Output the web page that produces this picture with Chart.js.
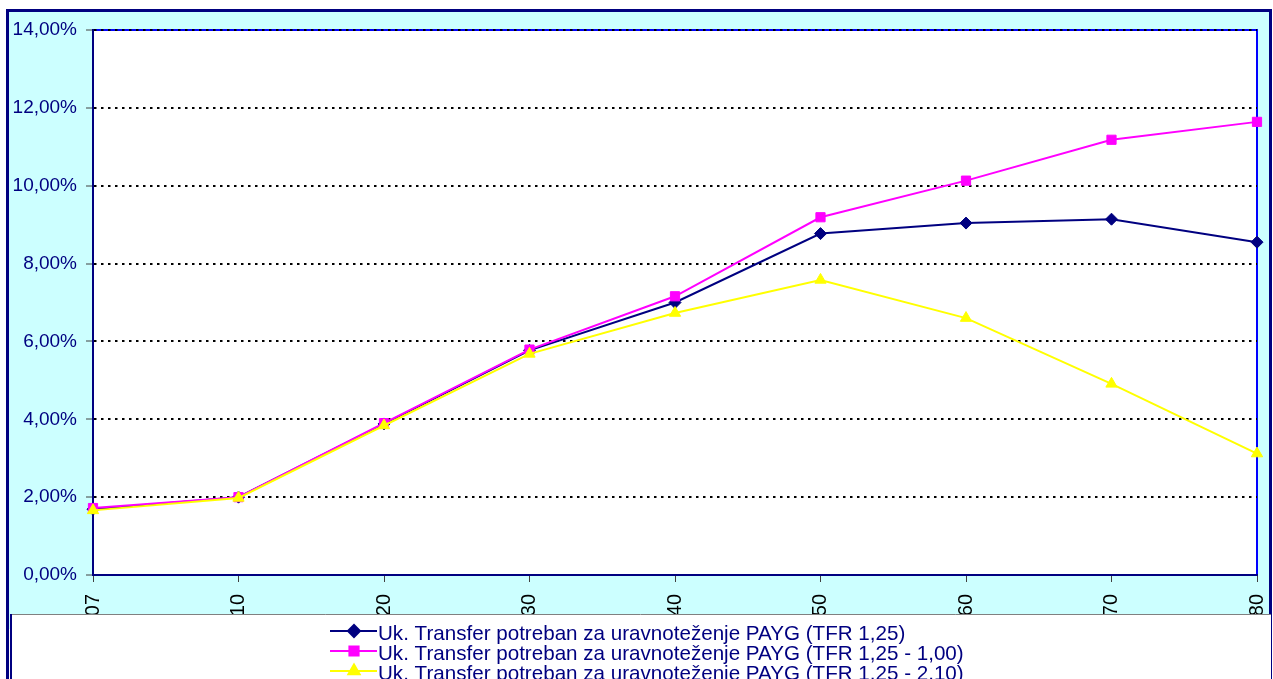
<!DOCTYPE html>
<html>
<head>
<meta charset="utf-8">
<script src="https://cdn.jsdelivr.net/npm/chart.js@4/dist/chart.umd.min.js"></script>
<style>
  html, body { margin: 0; padding: 0; background: #ffffff; overflow: hidden; }
  #wrap { width: 1273px; height: 679px; position: relative; }
  canvas { display: block; }
</style>
</head>
<body>
<div id="wrap"><canvas id="c" width="1273" height="679"></canvas></div>
<script>
// Years on the horizontal axis
const years = ['2007', '2010', '2020', '2030', '2040', '2050', '2060', '2070', '2080'];

// Total transfer needed to balance PAYG, % of GDP
const transferTfr125 = [1.69, 2.00, 3.88, 5.77, 7.00, 8.77, 9.04, 9.14, 8.55];
const transferTfr125to100 = [1.72, 2.00, 3.90, 5.79, 7.16, 9.19, 10.13, 11.18, 11.64];
const transferTfr125to210 = [1.66, 1.98, 3.84, 5.68, 6.73, 7.58, 6.60, 4.91, 3.12];

const seriesNames = [
  'Uk. Transfer potreban za uravnoteženje PAYG (TFR 1,25)',
  'Uk. Transfer potreban za uravnoteženje PAYG (TFR 1,25 - 1,00)',
  'Uk. Transfer potreban za uravnoteženje PAYG (TFR 1,25 - 2,10)'
];

const yMin = 0, yMax = 14, yStep = 2;

const NAVY = '#000080';
const CYAN = '#CCFFFF';
const FONT = '"Liberation Sans", Arial, sans-serif';

// Background, outer frame, plot area box and the legend panel
const framePlugin = {
  id: 'frame',
  beforeDraw(chart) {
    const ctx = chart.ctx;
    const a = chart.chartArea;
    ctx.save();
    ctx.fillStyle = '#ffffff';
    ctx.fillRect(0, 0, chart.width, chart.height);
    ctx.fillStyle = CYAN;
    ctx.fillRect(6, 9, 1266, 620);
    ctx.strokeStyle = NAVY;
    ctx.lineWidth = 3;
    ctx.strokeRect(7.5, 10.5, 1263, 700);
    // plot area
    ctx.fillStyle = '#ffffff';
    ctx.fillRect(a.left, a.top, a.right - a.left, a.bottom - a.top);
    ctx.strokeStyle = '#0000FF';
    ctx.lineWidth = 2;
    ctx.beginPath();
    ctx.moveTo(a.left, a.top);
    ctx.lineTo(a.right, a.top);
    ctx.lineTo(a.right, a.bottom);
    ctx.stroke();
    ctx.restore();
  },
  afterDraw(chart) {
    const ctx = chart.ctx;
    ctx.save();
    const boxTop = 614;
    ctx.fillStyle = '#ffffff';
    ctx.fillRect(10, boxTop, chart.width - 12, chart.height - boxTop);
    ctx.strokeStyle = '#808080';
    ctx.lineWidth = 1;
    ctx.beginPath();
    ctx.moveTo(10, boxTop + 0.5);
    ctx.lineTo(chart.width - 2, boxTop + 0.5);
    ctx.stroke();
    ctx.strokeStyle = NAVY;
    ctx.lineWidth = 2;
    ctx.beginPath();
    ctx.moveTo(11, boxTop);
    ctx.lineTo(11, chart.height);
    ctx.stroke();

    // legend entries
    ctx.font = '20.6px ' + FONT;
    const datasets = chart.data.datasets;
    const symW = 48;
    const left = 330;
    const rowY = [631, 651, 671];
    datasets.forEach((ds, i) => {
      const y = rowY[i];
      ctx.strokeStyle = ds.borderColor;
      ctx.lineWidth = 2;
      ctx.beginPath();
      ctx.moveTo(left, y);
      ctx.lineTo(left + symW - 1, y);
      ctx.stroke();
      ctx.fillStyle = ds.pointBackgroundColor;
      ctx.strokeStyle = ds.pointBorderColor;
      Chart.helpers.drawPoint(ctx, {
        pointStyle: ds.pointStyle,
        radius: ds.pointRadius,
        rotation: 0,
        borderWidth: 1
      }, left + symW / 2, y);
      ctx.fillStyle = NAVY;
      ctx.textAlign = 'left';
      ctx.textBaseline = 'middle';
      ctx.fillText(ds.label, left + symW, y + 3);
    });
    ctx.restore();
  }
};

const makeSeries = (label, data, color, style, radius, order) => ({
  label,
  data,
  borderColor: color,
  backgroundColor: color,
  pointBackgroundColor: color,
  pointBorderColor: color,
  pointBorderWidth: 1,
  borderWidth: 2,
  pointStyle: style,
  pointRadius: radius,
  pointHoverRadius: radius,
  tension: 0,
  fill: false,
  order
});

new Chart(document.getElementById('c'), {
  type: 'line',
  data: {
    labels: years,
    datasets: [
      makeSeries(seriesNames[0], transferTfr125, NAVY, 'rectRot', 6, 3),
      makeSeries(seriesNames[1], transferTfr125to100, '#FF00FF', 'rect', 6.5, 2),
      makeSeries(seriesNames[2], transferTfr125to210, '#FFFF00', 'triangle', 6.5, 1)
    ]
  },
  options: {
    responsive: false,
    animation: false,
    devicePixelRatio: 1,
    layout: { padding: { left: 13, right: 16, top: 30, bottom: 65 } },
    plugins: {
      legend: { display: false },
      tooltip: { enabled: false },
      title: { display: false }
    },
    scales: {
      x: {
        type: 'category',
        offset: false,
        grid: {
          display: true,
          offset: false,
          drawOnChartArea: false,
          drawTicks: true,
          tickLength: 7,
          tickColor: '#404040',
          tickWidth: 1
        },
        border: { display: true, color: NAVY, width: 2 },
        ticks: {
          autoSkip: false,
          minRotation: 90,
          maxRotation: 90,
          padding: 12,
          color: '#000000',
          font: { family: FONT, size: 20 }
        },
        afterFit(scale) {
          scale.height = 39;
          scale.paddingLeft = 0;
          scale.paddingRight = 0;
        }
      },
      y: {
        min: yMin,
        max: yMax,
        grid: {
          display: true,
          drawOnChartArea: true,
          drawTicks: true,
          tickLength: 7,
          tickColor: '#404040',
          tickWidth: 1,
          lineWidth: 2,
          color: ctx => (ctx.tick && ctx.tick.value === yMin) ? 'rgba(0,0,0,0)' : '#000000'
        },
        border: { display: true, color: NAVY, width: 2, dash: [2.5, 4.5] },
        ticks: {
          stepSize: yStep,
          padding: 9,
          color: NAVY,
          font: { family: FONT, size: 19 },
          callback: v => v.toFixed(2).replace('.', ',') + '%'
        },
        afterFit(scale) { scale.width = 80; }
      }
    }
  },
  plugins: [framePlugin]
});
</script>
</body>
</html>
